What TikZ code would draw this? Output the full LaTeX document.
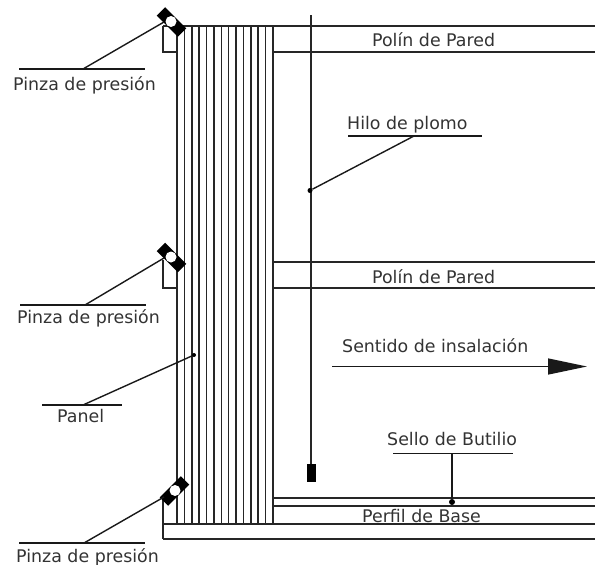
\documentclass[tikz,border=0pt]{standalone}
\usepackage{fontspec}
\setmainfont{DejaVu Sans}
\usetikzlibrary{arrows.meta}
\begin{document}
\begin{tikzpicture}[x=1pt,y=-1pt,line cap=butt,
 ln/.style={draw=black!85,line width=1.5pt},
 ldr/.style={draw=black!90,line width=1.4pt},
 lbl/.style={inner sep=0pt,anchor=base west,font=\fontsize{17.4pt}{20pt}\selectfont,text=black!80},
 dotnode/.style={circle,fill=black,inner sep=0pt,minimum size=6pt},
 clampbar/.style={rectangle,fill=black,draw=none,inner sep=0pt,minimum width=30pt,minimum height=12pt},
 clamphole/.style={circle,fill=white,draw=none,inner sep=0pt,minimum size=11pt},
 bobnode/.style={rectangle,fill=black,draw=none,inner sep=0pt,minimum width=9pt,minimum height=18pt}]
\useasboundingbox (0,0) rectangle (595,565);
% panel
\foreach \i in {0,...,13}{\draw[ln] ({177+\i*7.385},26) -- ({177+\i*7.385},524);}
% girts
\draw[ln] (163,26) -- (595,26);
\draw[ln] (163,26) -- (163,52) -- (177,52);
\draw[ln] (273,52) -- (595,52);
\draw[ln] (273,262) -- (595,262);
\draw[ln] (273,288) -- (595,288);
\draw[ln] (163,260) -- (163,288) -- (177,288);
\draw[ln] (273,498) -- (595,498);
\draw[ln] (273,506) -- (595,506);
\draw[ln] (163,524) -- (595,524);
\draw[ln] (163,539) -- (595,539);
\draw[ln] (163,498) -- (163,539);
% clamps
\node[clampbar,rotate=-45] (c1) at (171.5,22) {};
\node[clamphole] (h1) at (171,21.5) {};
\node[clampbar,rotate=-45] (c2) at (171.5,257.5) {};
\node[clamphole] (h2) at (171,257) {};
\node[clampbar,rotate=45] (c3) at (174.5,491) {};
\node[clamphole] (h3) at (175,490.5) {};
% clamp labels
\coordinate (u1a) at (19,69); \coordinate (u1b) at (145,69); \coordinate (k1) at (83,69);
\coordinate (u2a) at (20,305); \coordinate (u2b) at (146,305); \coordinate (k2) at (85,305);
\coordinate (u3a) at (19,543); \coordinate (u3b) at (145,543); \coordinate (k3) at (84,543);
\coordinate (t1) at (164,22); \coordinate (t2) at (164,258); \coordinate (t3) at (164,497);
\draw[ldr] (u1a) -- (u1b); \draw[ldr] (k1) -- (t1);
\draw[ldr] (u2a) -- (u2b); \draw[ldr] (k2) -- (t2);
\draw[ldr] (u3a) -- (u3b); \draw[ldr] (k3) -- (t3);
\node[lbl] (p1) at (13,90) {Pinza de presión};
\node[lbl] (p2) at (17,323) {Pinza de presión};
\node[lbl] (p3) at (16,562) {Pinza de presión};
% panel label
\node[dotnode,minimum size=4pt] (dp) at (194,355) {};
\coordinate (ua) at (42,405); \coordinate (ub) at (122,405); \coordinate (ku) at (83,405);
\draw[ldr] (ua) -- (ub); \draw[ldr] (ku) -- (dp);
\node[lbl] (pn) at (57,422) {Panel};
% plumb line
\coordinate (pt) at (311,15);
\node[bobnode] (bob) at (311,473) {};
\draw[ln] (pt) -- (bob);
\node[dotnode,minimum size=5pt] (dh) at (310,190.5) {};
\coordinate (ha) at (348,136); \coordinate (hb) at (482,136); \coordinate (hk) at (414,136);
\draw[ldr] (ha) -- (hb); \draw[ldr] (hk) -- (dh);
\node[lbl] (hl) at (347,129) {Hilo de plomo};
% other labels
\node[lbl] (pp1) at (372,46.5) {Polín de Pared};
\node[lbl] (pp2) at (372,283) {Polín de Pared};
\node[lbl] (pb) at (362,522) {Perfil de Base};
\node[lbl] (sd) at (342,352) {Sentido de insalación};
\coordinate (aa) at (332,366.5); \coordinate (ab) at (587,366.5);
\draw[ldr,-{Triangle[length=39pt,width=16pt]}] (aa) -- (ab);
% butyl seal
\node[dotnode] (ds) at (452,502) {};
\coordinate (sa) at (393,453.5); \coordinate (sb) at (513,453.5); \coordinate (sk) at (452,453.5);
\draw[ldr] (sa) -- (sb); \draw[ldr] (sk) -- (ds);
\node[lbl] (sl) at (387,445.5) {Sello de Butilio};
\end{tikzpicture}
\end{document}
